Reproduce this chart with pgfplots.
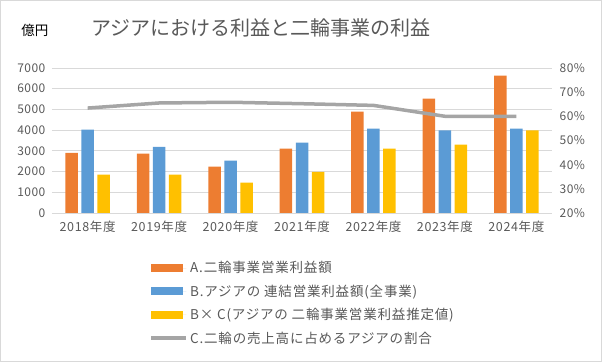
\documentclass[border=0pt]{standalone}
\usepackage{fontspec}
\setmainfont{Noto Sans CJK JP}
\usepackage{pgfplots}
\pgfplotsset{compat=1.18}
\definecolor{cOr}{HTML}{ED7D31}
\definecolor{cBl}{HTML}{5B9BD5}
\definecolor{cYe}{HTML}{FFC000}
\definecolor{cGr}{HTML}{A5A5A5}
\definecolor{txt}{HTML}{595959}
\definecolor{gridc}{HTML}{D9D9D9}
\pgfplotsset{
  mybarleg/.style={legend image code/.code={\path (0pt,0pt) -- (35pt,0pt);\fill[##1] (0pt,-4pt) rectangle (32pt,4pt);}},
  mylineleg/.style={legend image code/.code={\path (0pt,0pt) -- (35pt,0pt);\draw[##1] (0pt,0pt) -- (32pt,0pt);}},
}
\begin{document}
\begin{tikzpicture}[x=1pt,y=1pt]
\draw[color=gridc, line width=0.8pt] (0.5,0.5) rectangle (601.5,361.5);
\node[font=\fontsize{20}{24}\selectfont, text=txt] at (261,334) {アジアにおける利益と二輪事業の利益};
\node[font=\fontsize{13.5}{16}\selectfont, text=black] at (35,332) {億円};
\begin{axis}[
  at={(52pt,149pt)}, anchor=south west,
  scale only axis, width=500pt, height=145pt,
  xmin=-0.5, xmax=6.5, ymin=0, ymax=7000,
  ybar=3.5pt, bar width=12.5pt,
  xtick={0,1,2,3,4,5,6},
  xticklabels={2018年度,2019年度,2020年度,2021年度,2022年度,2023年度,2024年度},
  ytick={0,1000,...,7000},
  scaled y ticks=false,
  /pgf/number format/assume math mode=true,
  /pgf/number format/1000 sep={},
  axis line style={draw=none},
  major tick length=0pt,
  ymajorgrids, grid style={color=gridc, line width=0.8pt},
  tick label style={font=\fontsize{12}{14}\selectfont, text=txt},
  yticklabel style={xshift=-3pt, font=\fontsize{12}{14}\selectfont\addfontfeature{LetterSpace=4}},
  xticklabel style={yshift=-4pt, font=\fontsize{12.5}{14}\selectfont\addfontfeature{LetterSpace=5}},
  legend style={at={(axis description cs:0.195,-0.32)}, anchor=north west, draw=none, fill=none,
    font=\fontsize{13.5}{16}\selectfont\addfontfeature{LetterSpace=6}, text=txt, row sep=6.5pt, inner sep=0pt},
  legend cell align=left,
]
\addplot[fill=cOr, draw=none, mybarleg] coordinates {(0,2900)(1,2865)(2,2235)(3,3105)(4,4895)(5,5520)(6,6630)};
\addplot[fill=cBl, draw=none, mybarleg] coordinates {(0,4020)(1,3190)(2,2525)(3,3395)(4,4070)(5,3990)(6,4070)};
\addplot[fill=cYe, draw=none, mybarleg] coordinates {(0,1850)(1,1850)(2,1465)(3,1980)(4,3105)(5,3300)(6,3990)};
\addlegendimage{mylineleg, color=cGr, line width=3.5pt}
\legend{A.二輪事業営業利益額, B.アジアの 連結営業利益額(全事業), B× C(アジアの 二輪事業営業利益推定値), C.二輪の売上高に占めるアジアの割合}
\end{axis}
\begin{axis}[
  at={(52pt,149pt)}, anchor=south west,
  scale only axis, width=500pt, height=145pt,
  xmin=-0.5, xmax=6.5, ymin=20, ymax=80,
  axis x line=none, axis y line*=right,
  axis line style={draw=none},
  ytick={20,30,...,80},
  yticklabel={\pgfmathprintnumber{\tick}\%},
  /pgf/number format/assume math mode=true,
  major tick length=0pt,
  tick label style={font=\fontsize{12}{14}\selectfont\addfontfeature{LetterSpace=4}, text=txt},
  yticklabel style={xshift=4pt},
]
\addplot[color=cGr, line width=3.5pt, mark=none] coordinates {(0,63.4)(1,65.5)(2,65.8)(3,65.2)(4,64.5)(5,60.0)(6,60.0)};
\end{axis}
\end{tikzpicture}
\end{document}
